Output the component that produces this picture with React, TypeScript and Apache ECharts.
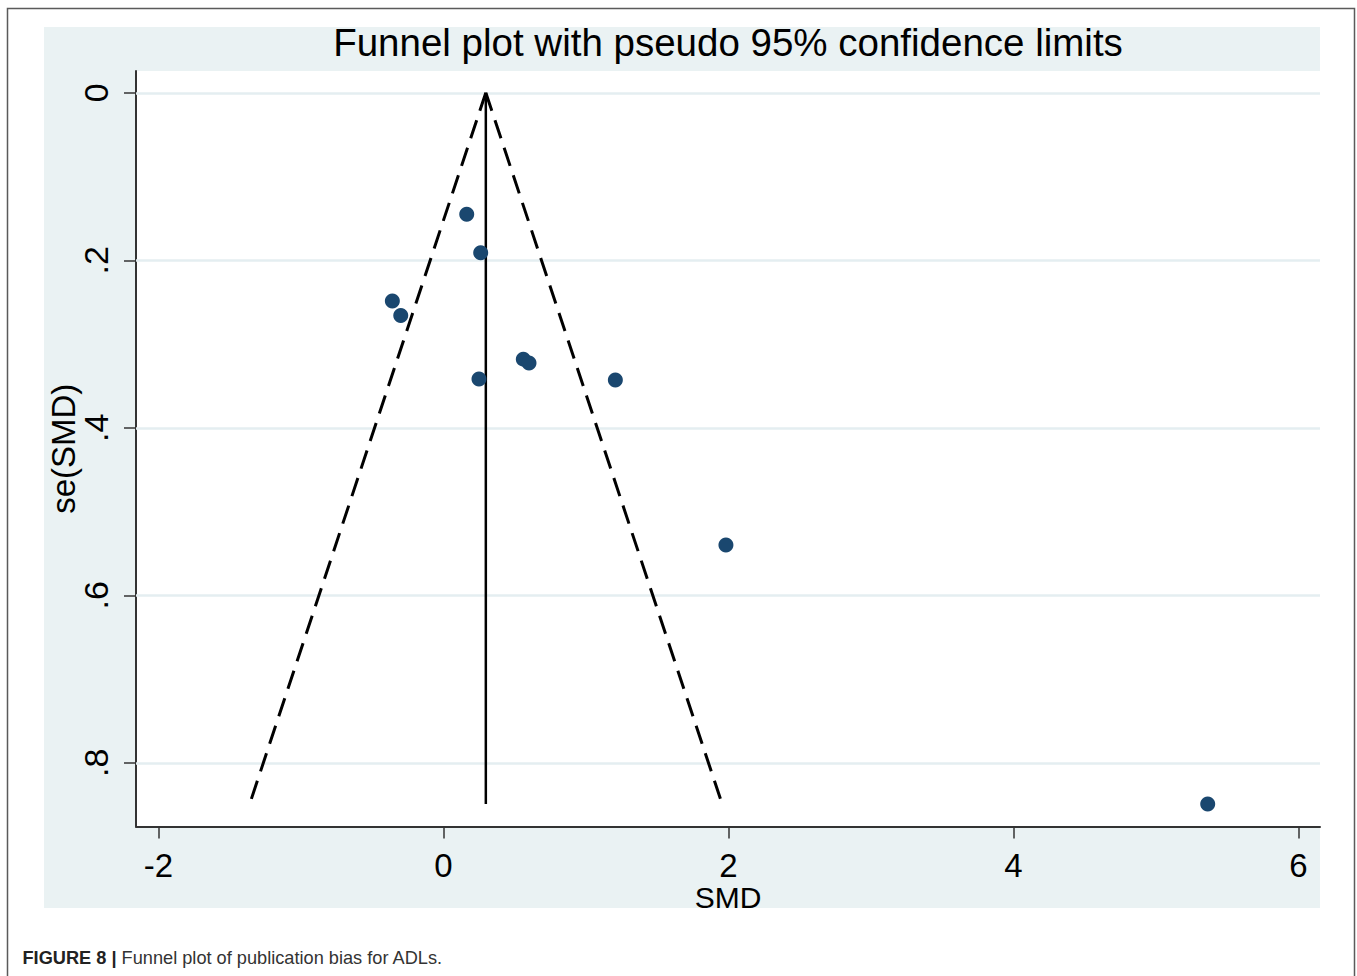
import React, { useEffect, useRef } from "react";
import * as echarts from "echarts";

// ---- data ----
const smd = [0.163, 0.261, -0.359, -0.3, 0.56, 0.6, 0.249, 1.206, 1.982, 5.363];
const seSmd = [0.145, 0.191, 0.2485, 0.266, 0.318, 0.3226, 0.3417, 0.343, 0.54, 0.849];

const funnelSe = [0, 0.849];
const funnelLeftX = [0.297, -1.36];
const funnelRightX = [0.297, 1.955];
const pooledX = [0.297, 0.297];

const xTicks = [-2, 0, 2, 4, 6];
const xTickLabels = ["-2", "0", "2", "4", "6"];
const yTicks = [0, 0.2, 0.4, 0.6, 0.8];
const yTickLabels = ["0", ".2", ".4", ".6", ".8"];

const titleText = "Funnel plot with pseudo 95% confidence limits";
const xName = "SMD";
const yName = "se(SMD)";

const FONT = "'Liberation Sans', Arial, Helvetica, sans-serif";

function labelFor(ticks: number[], labels: string[], v: number) {
  const i = ticks.findIndex((t) => Math.abs(t - v) < 1e-9);
  return i >= 0 ? labels[i] : "";
}

export default function App() {
  const ref = useRef<HTMLDivElement>(null);

  useEffect(() => {
    document.body.style.margin = "0";
    if (!ref.current) return;
    const chart = echarts.init(ref.current, undefined, { renderer: "svg" });

    const points = smd.map((x, i) => [x, seSmd[i]]);
    const left = funnelSe.map((s, i) => [funnelLeftX[i], s]);
    const right = funnelSe.map((s, i) => [funnelRightX[i], s]);
    const pooled = funnelSe.map((s, i) => [pooledX[i], s]);

    const option: any = {
      animation: false,
      backgroundColor: "#ffffff",
      graphic: [
        {
          type: "rect",
          z: -20,
          silent: true,
          shape: { x: 7.5, y: 8.5, width: 1347, height: 1000 },
          style: { fill: "none", stroke: "#5a5a5a", lineWidth: 1.5 },
        },
        {
          type: "rect",
          z: -10,
          silent: true,
          shape: { x: 44, y: 27, width: 1276, height: 881 },
          style: { fill: "#eaf2f3" },
        },
        {
          type: "text",
          x: 728,
          y: 42.5,
          style: {
            text: titleText,
            fontSize: 38.5,
            fontFamily: FONT,
            fill: "#000000",
            align: "center",
            verticalAlign: "middle",
          },
        },
        {
          type: "text",
          x: 22.5,
          y: 958,
          style: {
            text: "{b|FIGURE 8 |} {n|Funnel plot of publication bias for ADLs.}",
            fontSize: 18.2,
            fontFamily: FONT,
            fill: "#222222",
            align: "left",
            verticalAlign: "middle",
            rich: {
              b: { fontSize: 18.2, fontWeight: "bold", fontFamily: FONT, fill: "#222222" },
              n: { fontSize: 18.2, fontWeight: "normal", fontFamily: FONT, fill: "#333333" },
            },
          },
        },
      ],
      grid: {
        left: 136,
        top: 71,
        right: 1357 - 1320,
        bottom: 976 - 826.5,
        show: true,
        backgroundColor: "#ffffff",
        borderWidth: 0,
        containLabel: false,
        outerBoundsMode: "none",
      },
      xAxis: {
        type: "value",
        min: -2.158,
        max: 6.151,
        name: xName,
        nameLocation: "middle",
        nameGap: 58,
        nameMoveOverlap: false,
        nameTextStyle: { fontSize: 30, fontFamily: FONT, color: "#000", lineHeight: 26 },
        axisLine: { show: true, onZero: false, lineStyle: { color: "#333333", width: 2 } },
        axisTick: {
          show: true,
          length: 12,
          inside: false,
          customValues: xTicks,
          lineStyle: { color: "#333333", width: 1.5 },
        },
        axisLabel: {
          show: true,
          customValues: xTicks,
          margin: 24.5,
          fontSize: 33,
          lineHeight: 28,
          fontFamily: FONT,
          color: "#000",
          formatter: (v: number) => labelFor(xTicks, xTickLabels, v),
        },
        splitLine: { show: false },
      },
      yAxis: {
        type: "value",
        inverse: true,
        min: -0.026,
        max: 0.876,
        name: yName,
        nameLocation: "middle",
        nameGap: 57,
        nameRotate: 90,
        nameMoveOverlap: false,
        nameTextStyle: { fontSize: 33, fontFamily: FONT, color: "#000", lineHeight: 32 },
        axisLine: { show: true, onZero: false, lineStyle: { color: "#333333", width: 2 } },
        axisTick: {
          show: true,
          length: 12,
          inside: false,
          customValues: yTicks,
          lineStyle: { color: "#333333", width: 1.5 },
        },
        axisLabel: {
          show: true,
          customValues: yTicks,
          rotate: 90,
          margin: 25,
          fontSize: 34,
          lineHeight: 30,
          fontFamily: FONT,
          color: "#000",
          formatter: (v: number) => labelFor(yTicks, yTickLabels, v),
        },
        splitLine: { show: false },
      },
      series: [
        {
          name: "Studies",
          type: "scatter",
          z: 5,
          data: points,
          symbol: "circle",
          symbolSize: 15,
          itemStyle: { color: "#1a476f", opacity: 1 },
          markLine: {
            silent: true,
            z: 1,
            symbol: ["none", "none"],
            label: { show: false },
            lineStyle: { type: "solid", color: "#e4eef1", width: 2.5 },
            emphasis: { disabled: true },
            data: yTicks.map((t) => ({ yAxis: t })),
          },
        },
        {
          name: "Lower limit",
          type: "line",
          z: 3,
          data: left,
          symbol: "none",
          lineStyle: { color: "#000000", width: 3, type: [19, 10] },
        },
        {
          name: "Upper limit",
          type: "line",
          z: 3,
          data: right,
          symbol: "none",
          lineStyle: { color: "#000000", width: 3, type: [19, 10] },
        },
        {
          name: "Pooled",
          type: "line",
          z: 3,
          data: pooled,
          symbol: "none",
          lineStyle: { color: "#000000", width: 2.5, type: "solid" },
        },
      ],
    };

    chart.setOption(option);
    return () => chart.dispose();
  }, []);

  return <div ref={ref} style={{ width: 1357, height: 976 }} />;
}
